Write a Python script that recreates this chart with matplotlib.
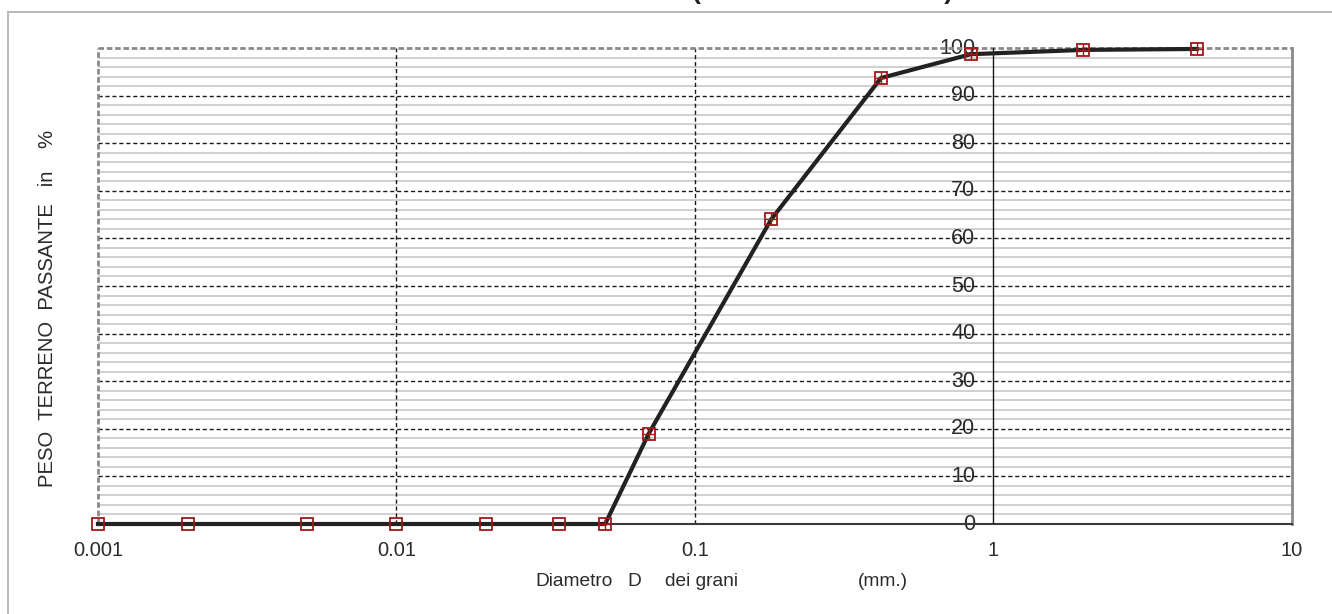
import matplotlib
matplotlib.use("Agg")
import matplotlib.pyplot as plt
from matplotlib.lines import Line2D
import numpy as np

# Data
diam_mm = [0.001, 0.002, 0.005, 0.01, 0.02, 0.035, 0.05, 0.07, 0.18, 0.42, 0.84, 2.0, 4.8]
passing = [0, 0, 0, 0, 0, 0, 0, 19, 64, 93.7, 98.7, 99.6, 99.8]
x_ticks = [0.001, 0.01, 0.1, 1, 10]
x_tick_labels = ["0.001", "0.01", "0.1", "1", "10"]
y_ticks = [0, 10, 20, 30, 40, 50, 60, 70, 80, 90, 100]
y_tick_labels = [str(v) for v in y_ticks]
x_label_parts = ["Diametro", "D", "dei grani", "(mm.)"]
y_label = "PESO  TERRENO  PASSANTE   in    %"

W, H = 1332, 614
fig = plt.figure(figsize=(W / 100, H / 100), dpi=100)
plt.rcParams['font.family'] = ['Liberation Sans', 'DejaVu Sans']
txt_color = '#2a2a2a'

ax_l, ax_r, ax_t, ax_b = 98, 1292, 48, 524
ax = fig.add_axes([ax_l / W, 1 - ax_b / H, (ax_r - ax_l) / W, (ax_b - ax_t) / H])
ax.set_xscale('log')
ax.set_xlim(0.001, 10)
ax.set_ylim(0, 100)

# minor horizontal grid every 2%
for v in np.arange(2, 100, 2):
    if v % 10 != 0:
        ax.axhline(v, color='#c8c8c8', lw=1.2, zorder=1)
# major horizontal dashed
for v in y_ticks[1:-1]:
    ax.axhline(v, color='#1a1a1a', lw=1.0, ls=(0, (3, 2)), zorder=2)
# vertical decade lines
for v in [0.01, 0.1]:
    ax.axvline(v, color='#1a1a1a', lw=1.0, ls=(0, (3, 2)), zorder=2)

# spines
for s in ['left', 'right', 'top', 'bottom']:
    ax.spines[s].set_visible(False)
ax.plot([0.001, 10], [100, 100], color='#8a8a8a', lw=2.0, ls=(0, (2, 1)), zorder=3, clip_on=False)
ax.plot([0.001, 0.001], [0, 100], color='#8a8a8a', lw=2.0, ls=(0, (2, 1)), zorder=3, clip_on=False)
ax.plot([10, 10], [0, 100], color='#8a8a8a', lw=2.0, zorder=3, clip_on=False)
ax.plot([0.001, 10], [0, 0], color='#3a3a3a', lw=1.5, zorder=3, clip_on=False)
ax.axvline(1, color='#1a1a1a', lw=1.0, zorder=3)

# data
ax.plot(diam_mm, passing, color='#222222', lw=3.0, zorder=5, clip_on=False)
ax.plot(diam_mm, passing, ls='none', marker='s', ms=8.5, mfc='none', mec='#a01818', mew=1.3,
        zorder=6, clip_on=False)
ax.plot(diam_mm[6:], passing[6:], ls='none', marker='+', ms=8.5, mec='#a01818', mew=1.0,
        zorder=6, clip_on=False)

# x ticks
ax.set_xticks(x_ticks)
ax.set_xticklabels(x_tick_labels)
ax.xaxis.set_minor_locator(matplotlib.ticker.NullLocator())
ax.tick_params(axis='x', length=0, pad=12, labelsize=14.5, labelcolor=txt_color)
ax.set_yticks([])

# y tick labels at x = 1
for v, lab in zip(y_ticks, y_tick_labels):
    ax.annotate(lab, xy=(1, v), xytext=(-13, 0), textcoords='offset points',
                ha='right', va='center', fontsize=15.5, color=txt_color, zorder=1)

# x label pieces
for xpx, part in zip([535, 627, 665, 858], x_label_parts):
    fig.text(xpx / W, 1 - 582 / H, part, ha='left', va='center', fontsize=13.8, color=txt_color)

fig.text(48 / W, 1 - 308 / H, y_label, ha='center', va='center', rotation=90,
         fontsize=14.6, color=txt_color)

# figure frame (top and left visible)
fig.add_artist(Line2D([8 / W, 8 / W], [0, 1 - 12 / H], color='#b4b4b4', lw=1.3))
fig.add_artist(Line2D([8 / W, 1], [1 - 12 / H, 1 - 12 / H], color='#b4b4b4', lw=1.3))

# partially cropped title
fig.text(823 / W, 1 + 1 / H, "(                                 )", ha='center', va='baseline',
         fontsize=19, fontweight='bold', color='#222222')

fig.savefig('out.png', dpi=100)
